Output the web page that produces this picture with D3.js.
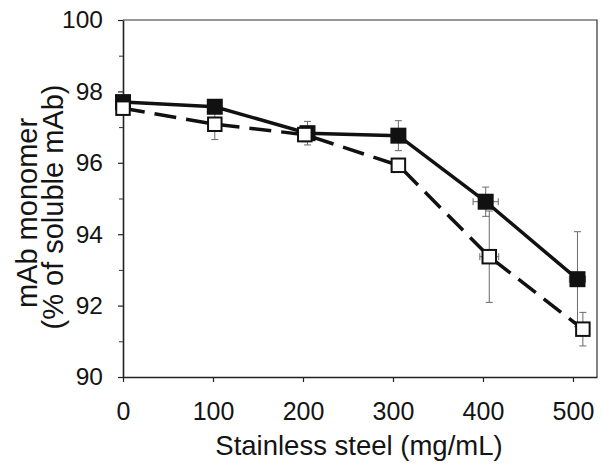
<!DOCTYPE html>
<html>
<head>
<meta charset="utf-8">
<script src="https://cdn.jsdelivr.net/npm/d3@7"></script>
<style>
  html, body { margin: 0; padding: 0; background: #fff; }
  svg { display: block; }
  text { font-family: "Liberation Sans", Arial, Helvetica, sans-serif; fill: #141414; }
</style>
</head>
<body>
<svg id="chart" width="609" height="472"></svg>
<script>
// ---- Data ----
const xTickValues = [0, 100, 200, 300, 400, 500];
const yMajorTicks = [90, 92, 94, 96, 98, 100];
const yMinorTicks = [91, 93, 95, 97, 99];

// Filled squares, solid line
const filledX    = [0, 102, 205, 306, 403, 505];
const filledY    = [97.70, 97.57, 96.83, 96.76, 94.91, 92.74];
const filledYErr = [0, 0, 0.33, 0.42, 0.41, 1.33];
const filledXErr = [0, 0, 0, 0, 14, 9];

// Open squares, dashed line
const openX    = [0, 102, 202, 306, 407, 511];
const openY    = [97.53, 97.08, 96.79, 95.93, 93.37, 91.34];
const openYErr = [0, 0.43, 0.2, 0, 1.28, 0.47];
const openXErr = [0, 0, 0, 0, 10.5, 0];

const xLabel = "Stainless steel (mg/mL)";
const yLabel1 = "mAb monomer";
const yLabel2 = "(% of soluble mAb)";

(function () {
// ---- Layout ----
const svg = d3.select("#chart");
const mLeft = 123, mRight = 597, mTop = 20, mBottom = 377;

const x = d3.scaleLinear().domain([0, 526.7]).range([mLeft, mRight]);
const y = d3.scaleLinear().domain([90, 100]).range([mBottom, mTop]);

const filled = filledX.map((v, i) => ({x: v, y: filledY[i], ey: filledYErr[i], ex: filledXErr[i]}));
const open = openX.map((v, i) => ({x: v, y: openY[i], ey: openYErr[i], ex: openXErr[i]}));

// Frame (top & right)
svg.append("path")
  .attr("d", `M${mLeft},${mTop}H${mRight}V${mBottom}`)
  .attr("fill", "none").attr("stroke", "#333").attr("stroke-width", 1.2);

// Axes
const xAxis = d3.axisBottom(x).tickValues(xTickValues).tickSize(5).tickPadding(20).tickSizeOuter(0);
const gx = svg.append("g").attr("transform", `translate(0,${mBottom})`).call(xAxis);
gx.select(".domain").attr("stroke", "#222").attr("stroke-width", 1.6);
gx.selectAll(".tick line").attr("stroke", "#222").attr("stroke-width", 1.2);
gx.selectAll(".tick text").style("font-size", "25px").style("fill", "#141414")
  .style("font-family", '"Liberation Sans", Arial, sans-serif');

const yAxis = d3.axisLeft(y).tickValues(yMajorTicks).tickSize(5).tickPadding(15).tickSizeOuter(0);
const gy = svg.append("g").attr("transform", `translate(${mLeft},0)`).call(yAxis);
gy.select(".domain").attr("stroke", "#222").attr("stroke-width", 1.6);
gy.selectAll(".tick line").attr("stroke", "#222").attr("stroke-width", 1.2);
gy.selectAll(".tick text").style("font-size", "24.5px").style("fill", "#141414")
  .style("font-family", '"Liberation Sans", Arial, sans-serif');

const yMinor = d3.axisLeft(y).tickValues(yMinorTicks).tickSize(4).tickFormat("");
const gym = svg.append("g").attr("transform", `translate(${mLeft},0)`).call(yMinor);
gym.select(".domain").remove();
gym.selectAll(".tick line").attr("stroke", "#333").attr("stroke-width", 1);

// Axis titles
svg.append("text")
  .attr("x", 359).attr("y", 455)
  .attr("text-anchor", "middle")
  .style("font-size", "27.5px")
  .text(xLabel);

svg.append("text")
  .attr("transform", "translate(37,213) rotate(-90)")
  .attr("text-anchor", "middle")
  .style("font-size", "29px")
  .text(yLabel1);
svg.append("text")
  .attr("transform", "translate(63,207) rotate(-90)")
  .attr("text-anchor", "middle")
  .style("font-size", "29px")
  .text(yLabel2);

// Error bars
const cap = 3.5;
function drawErr(data) {
  const g = svg.append("g").attr("stroke", "#6a6a6a").attr("stroke-width", 1).attr("fill", "none");
  data.forEach(d => {
    if (d.ey > 0) {
      const cx = x(d.x), y1 = y(d.y + d.ey), y2 = y(d.y - d.ey);
      g.append("path").attr("d",
        `M${cx},${y1}V${y2}M${cx - cap},${y1}H${cx + cap}M${cx - cap},${y2}H${cx + cap}`);
    }
    if (d.ex > 0) {
      const cy = y(d.y), x1 = x(d.x - d.ex), x2 = x(d.x + d.ex);
      g.append("path").attr("d",
        `M${x1},${cy}H${x2}M${x1},${cy - cap}V${cy + cap}M${x2},${cy - cap}V${cy + cap}`);
    }
  });
}
drawErr(filled);
drawErr(open);

// Lines
const line = d3.line().x(d => x(d.x)).y(d => y(d.y));
svg.append("path").datum(open).attr("d", line)
  .attr("fill", "none").attr("stroke", "#111").attr("stroke-width", 3.5)
  .attr("stroke-dasharray", "22,10");
svg.append("path").datum(filled).attr("d", line)
  .attr("fill", "none").attr("stroke", "#111").attr("stroke-width", 3.5);

// Markers
const fs = 16;
svg.append("g").selectAll("rect").data(filled).join("rect")
  .attr("x", d => x(d.x) - fs / 2).attr("y", d => y(d.y) - fs / 2)
  .attr("width", fs).attr("height", fs).attr("fill", "#111");

const os = 13.5;
svg.append("g").selectAll("rect").data(open).join("rect")
  .attr("x", d => x(d.x) - os / 2).attr("y", d => y(d.y) - os / 2)
  .attr("width", os).attr("height", os)
  .attr("fill", "#fff").attr("stroke", "#111").attr("stroke-width", 2);
})();
</script>
</body>
</html>
